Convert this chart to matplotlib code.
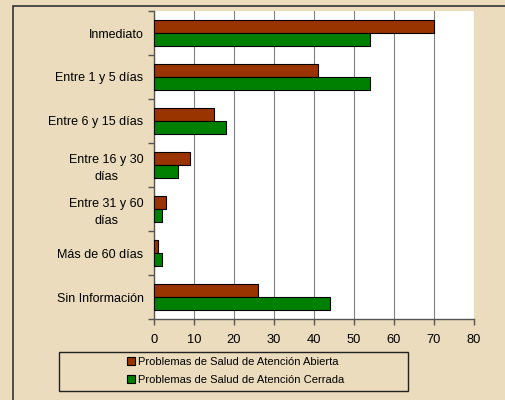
import matplotlib
matplotlib.use("Agg")
import matplotlib.pyplot as plt
import numpy as np
from matplotlib.patches import Rectangle

categories = ["Inmediato", "Entre 1 y 5 días", "Entre 6 y 15 días",
              "Entre 16 y 30\ndías", "Entre 31 y 60\ndías", "Más de 60 días",
              "Sin Información"]
abierta = [70, 41, 15, 9, 3, 1, 26]
cerrada = [54, 54, 18, 6, 2, 2, 44]
series_names = ["Problemas de Salud de Atención Abierta",
                "Problemas de Salud de Atención Cerrada"]
xticks = [0, 10, 20, 30, 40, 50, 60, 70, 80]

bg = "#EADCBC"
red = "#993300"
green = "#008000"

plt.rcParams['font.family'] = ['Liberation Sans', 'DejaVu Sans']

fig = plt.figure(figsize=(5.05, 4.0), dpi=100)
fig.patch.set_facecolor(bg)

# outer frame
fig.patches.append(Rectangle((13/505, -0.1), 1.2, 1 - 6/400 + 0.1,
                             transform=fig.transFigure, fill=False,
                             edgecolor="#333333", lw=1.2, zorder=0))
# legend box
fig.patches.append(Rectangle((59/505, 1 - 391/400), (408-59)/505, 39/400,
                             transform=fig.transFigure, fill=False,
                             edgecolor="#222222", lw=1.0, zorder=0))

ax = fig.add_axes([154/505, 1 - 319/400, 320/505, 308/400])
ax.set_facecolor("white")

n = len(categories)
y = np.arange(n)
h = 0.29
ax.barh(y - h/2, abierta, height=h, color=red, edgecolor="black", lw=0.8,
        label=series_names[0], zorder=3)
ax.barh(y + h/2, cerrada, height=h, color=green, edgecolor="black", lw=0.8,
        label=series_names[1], zorder=3)

ax.set_xlim(0, 80)
ax.set_ylim(n - 0.5, -0.5)
ax.set_xticks(xticks)
ax.set_xticklabels([str(v) for v in xticks], fontsize=9.3)
ax.xaxis.grid(True, color="#808080", lw=0.8, zorder=0)
ax.set_axisbelow(True)

ax.set_yticks(y)
ax.set_yticklabels(categories, fontsize=9)
for lab in ax.get_yticklabels():
    lab.set_multialignment("center")
    lab.set_linespacing(1.45)
ax.tick_params(axis="y", length=0, pad=7.5)
ax.set_yticks(np.arange(-0.5, n, 1.0), minor=True)
ax.tick_params(axis="y", which="minor", length=4, color="#555555", width=1)
ax.tick_params(axis="x", length=4, color="#555555", width=1, pad=6.5)

for s in ["top", "right"]:
    ax.spines[s].set_visible(False)
ax.spines["left"].set_color("#555555")
ax.spines["left"].set_linewidth(1)
ax.spines["bottom"].set_color("#555555")
ax.spines["bottom"].set_linewidth(1)

handles, labels = ax.get_legend_handles_labels()
leg = fig.legend(handles, labels, loc="center",
                 bbox_to_anchor=(236/505, 1 - 371/400),
                 frameon=False, fontsize=8,
                 handlelength=0.7, handleheight=0.7, handletextpad=0.3,
                 labelspacing=0.75, borderpad=0.0)

fig.savefig("out.png", dpi=100, facecolor=bg)
